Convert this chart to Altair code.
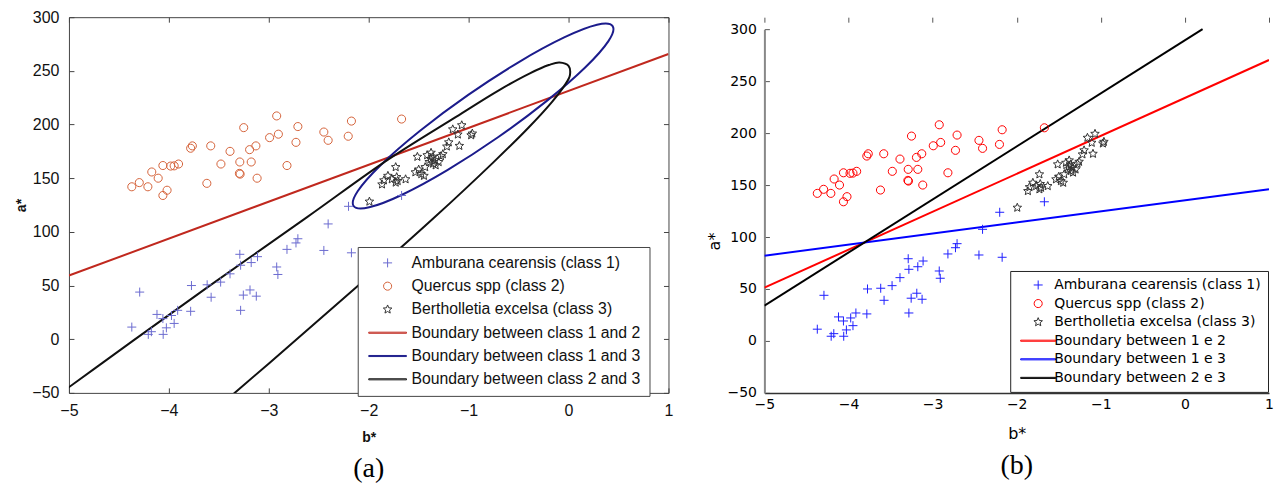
import altair as alt
import pandas as pd

# ---------------- data ----------------
x_ticks = [-5, -4, -3, -2, -1, 0, 1]
y_ticks = [-50, 0, 50, 100, 150, 200, 250, 300]

amburana_b = [-4.371, -4.292, -4.206, -4.175, -4.119, -4.060, -4.057, -4.025, -3.974, -3.947,
              -3.912, -3.782, -3.774, -3.617, -3.577, -3.482, -3.388, -3.290, -3.282, -3.282,
              -3.255, -3.188, -3.176, -3.125, -3.113, -2.921, -2.909, -2.818, -2.728, -2.709,
              -2.449, -2.406, -2.202, -2.173, -1.671]
amburana_a = [11.3, 43.9, 4.5, 7.0, 23.1, 19.2, 4.5, 10.6, 22.1, 14.7,
              26.9, 26.0, 50.0, 50.7, 39.1, 53.2, 60.9, 79.1, 68.9, 26.9,
              41.1, 45.9, 71.4, 40.1, 76.9, 67.3, 60.3, 83.7, 89.7, 93.6,
              82.7, 107.4, 123.8, 80.5, 133.9]

quercus_b = [-4.371, -4.296, -4.210, -4.171, -4.107, -4.060, -4.060, -4.018, -3.982, -3.947,
             -3.903, -3.782, -3.765, -3.620, -3.581, -3.479, -3.388, -3.290, -3.294, -3.287,
             -3.251, -3.192, -3.176, -3.129, -3.117, -2.992, -2.921, -2.904, -2.818, -2.728,
             -2.709, -2.449, -2.406, -2.205, -2.173, -1.671]
quercus_a = [142.0, 145.9, 142.0, 155.8, 150.0, 161.8, 133.9, 138.8, 161.3, 161.5,
             163.2, 177.9, 180.1, 145.2, 180.1, 163.2, 175.0, 165.1, 154.5, 153.8,
             197.1, 176.6, 165.1, 180.1, 150.0, 187.8, 208.0, 191.0, 161.8, 183.4,
             198.1, 193.0, 185.3, 189.1, 203.2, 205.1]

bertholletia_b = [-1.993, -1.867, -1.848, -1.808, -1.769, -1.730, -1.730, -1.710, -1.631, -1.533,
                  -1.513, -1.474, -1.447, -1.435, -1.415, -1.395, -1.376, -1.356, -1.336, -1.356,
                  -1.277, -1.258, -1.218, -1.199, -1.093, -1.159, -1.108, -1.069, -0.963, -0.975,
                  -1.330, -1.300, -1.720, -1.500, -1.380]
bertholletia_a = [128.2, 144.2, 148.0, 152.2, 149.0, 160.3, 145.9, 147.4, 149.0, 155.5,
                  169.9, 153.8, 152.2, 160.3, 171.4, 165.1, 173.7, 163.5, 166.7, 169.9,
                  170.5, 172.4, 179.5, 183.4, 180.1, 195.5, 190.7, 199.3, 191.6, 190.0,
                  162.0, 165.0, 151.0, 158.0, 168.0]

# panel (a) boundaries
a_b12_b = [-5.0, 1.0]
a_b12_a = [59.3, 265.7]
# closed ellipse (class 1 vs 3), points read around the curve
a_b13_b = [0.441, 0.399, 0.166, -0.221, -0.706, -1.213, -1.666, -1.995,
           -2.151, -2.109, -1.876, -1.489, -1.004, -0.497, -0.044, 0.285]
a_b13_a = [291.7, 277.7, 253.1, 221.8, 188.1, 157.5, 134.6, 122.9,
           124.1, 138.1, 162.6, 194.0, 227.6, 258.2, 281.1, 292.9]
# open conic (class 2 vs 3) (runs past the frame)
a_b23_b = [-5.868, -4.737, -3.601, -2.620, -1.796, -1.126, -0.698, -0.387, -0.198, -0.091,
           0.000, 0.013, -0.038, -0.163, -0.402, -0.758, -1.344, -2.090, -2.993, -4.055]
a_b23_a = [-103.5, -26.9, 49.2, 113.5, 168.0, 207.2, 231.9, 247.7, 255.4, 257.8,
           254.6, 245.7, 236.7, 221.4, 197.0, 164.3, 113.3, 51.3, -22.1, -106.9]

# panel (b) boundaries
b_b12_b = [-5.0, 1.0]
b_b12_a = [51.3, 270.3]
b_b13_b = [-5.0, 1.0]
b_b13_a = [82.0, 146.0]
b_b23_b = [-5.0, 0.21]
b_b23_a = [34.0, 300.0]

series_a = ["Amburana cearensis (class 1)", "Quercus spp (class 2)",
            "Bertholletia excelsa (class 3)", "Boundary between class 1 and 2",
            "Boundary between class 1 and 3", "Boundary between class 2 and 3"]
series_b = ["Amburana cearensis (class 1)", "Quercus spp (class 2)",
            "Bertholletia excelsa (class 3)", "Boundary between 1 e 2",
            "Boundary between 1 e 3", "Boundary between 2 e 3"]

colors_a = ["#6b6bd0", "#d4623a", "#333333", "#c0281e", "#1c1c8c", "#111111"]
colors_b = ["#1f1fff", "#ff0000", "#333333", "#ff0000", "#0000ff", "#000000"]

# marker shapes (unit paths)
PLUS = "M-1,0H1M0,-1V1"
CIRC = "M-0.9,0A0.9,0.9 0 1,0 0.9,0A0.9,0.9 0 1,0 -0.9,0Z"
STAR = ("M0,-1L0.265,-0.364L0.951,-0.309L0.428,0.139L0.588,0.809L0,0.45L-0.588,0.809"
        "L-0.428,0.139L-0.951,-0.309L-0.265,-0.364Z")
LINE_A = "M-4.2,-0.12H4.2V0.12H-4.2Z"
LINE_B = "M-3.9,-0.12H3.9V0.12H-3.9Z"
shapes_a = [PLUS, CIRC, STAR, LINE_A, LINE_A, LINE_A]
shapes_b = [PLUS, CIRC, STAR, LINE_B, LINE_B, LINE_B]


def points_df(series):
    return pd.concat([
        pd.DataFrame({"b": amburana_b, "a": amburana_a, "series": series[0]}),
        pd.DataFrame({"b": quercus_b, "a": quercus_a, "series": series[1]}),
        pd.DataFrame({"b": bertholletia_b, "a": bertholletia_a, "series": series[2]}),
    ], ignore_index=True)


def line_df(bs, as_, name):
    return pd.DataFrame({"b": bs, "a": as_, "series": name, "idx": list(range(len(bs)))})


def encodings(series, colors, shapes, legend, xaxis, yaxis, yscale):
    x = alt.X("b:Q", scale=alt.Scale(domain=[-5, 1], nice=False, zero=False), axis=xaxis)
    y = alt.Y("a:Q", scale=yscale, axis=yaxis)
    color = alt.Color("series:N", scale=alt.Scale(domain=series, range=colors), legend=legend)
    shape = alt.Shape("series:N", scale=alt.Scale(domain=series, range=shapes), legend=legend)
    return x, y, color, shape


H = 376

# ---------------- panel (a) ----------------
legend_a = alt.Legend(title=None, orient="none", legendX=289, legendY=230, padding=8,
                      strokeColor="#444", fillColor="white", labelFont="Liberation Sans",
                      labelFontSize=15.8, labelColor="#111", symbolSize=81, symbolOffset=14,
                      labelOffset=16, rowPadding=6.3, labelLimit=500,
                      symbolStrokeWidth=1, symbolFillColor="transparent")
xaxis_a = alt.Axis(values=x_ticks, format="d", title="b*", grid=True, gridColor="#444",
                   gridOpacity=1, gridDash=[5, H - 10, 5, 1000], ticks=False, domain=False,
                   labelFont="Liberation Sans", labelFontSize=16, labelColor="#111",
                   labelPadding=10, labelFlush=False, titleFont="Liberation Sans",
                   titleFontSize=14, titleFontWeight="bold", titleColor="#111",
                   titlePadding=12)
yaxis_a = alt.Axis(values=y_ticks, format="d", title="a*", grid=True, gridColor="#444",
                   gridOpacity=1, gridDash=[5, 590, 5, 1000], ticks=False, domain=False,
                   labelFont="Liberation Sans", labelFontSize=16, labelColor="#111",
                   labelPadding=10, labelFlush=False, titleFont="Liberation Sans",
                   titleFontSize=14, titleFontWeight="bold", titleColor="#111",
                   titlePadding=3)
xa, ya, ca, sa = encodings(series_a, colors_a, shapes_a, legend_a, xaxis_a, yaxis_a,
                           alt.Scale(domain=[-50, 300], nice=False, zero=False))

pts_a = alt.Chart(points_df(series_a)).mark_point(
    filled=False, size=81, opacity=1, strokeWidth=1).encode(x=xa, y=ya, color=ca, shape=sa)
red_a = alt.Chart(line_df(a_b12_b, a_b12_a, series_a[3])).mark_line(
    strokeWidth=2, clip=True).encode(x=xa, y=ya, color=ca, order="idx:Q")
blue_a = alt.Chart(line_df(a_b13_b, a_b13_a, series_a[4])).mark_line(
    strokeWidth=2, interpolate="cardinal-closed", clip=True).encode(
    x=xa, y=ya, color=ca, order="idx:Q")
black_a = alt.Chart(line_df(a_b23_b, a_b23_a, series_a[5])).mark_line(
    strokeWidth=2, interpolate="catmull-rom", clip=True).encode(
    x=xa, y=ya, color=ca, order="idx:Q")

panel_a = alt.layer(red_a, blue_a, black_a, pts_a).properties(
    width=600, height=H,
    view=alt.ViewBackground(stroke="#444", strokeWidth=1),
    title=alt.TitleParams(text="(a)", orient="bottom", anchor="middle",
                          font="Liberation Serif", fontSize=28, fontWeight="normal",
                          color="black", offset=10))

# ---------------- panel (b) ----------------
legend_b = alt.Legend(title=None, orient="none", legendX=246, legendY=254, padding=7,
                      strokeColor="#222", fillColor="white", labelFont="DejaVu Sans",
                      labelFontSize=14, labelColor="black", symbolSize=81, symbolOffset=14,
                      labelOffset=9, rowPadding=4.6, labelLimit=500,
                      symbolStrokeWidth=1, symbolFillColor="transparent")
xaxis_b = alt.Axis(values=x_ticks, format="d", title="b*", grid=True, gridColor="#555",
                   gridOpacity=1, gridDash=[5, 2000], ticks=False, domain=True,
                   domainColor="#333", domainWidth=1.5, labelFont="DejaVu Sans",
                   labelFontSize=14, labelColor="black", labelPadding=5, labelFlush=False,
                   titleFont="DejaVu Sans", titleFontSize=16, titleFontWeight="normal",
                   titleColor="black", titlePadding=14)
yaxis_b = alt.Axis(values=y_ticks, format="d", title="a*", grid=True, gridColor="#555",
                   gridOpacity=1, gridDash=[5, 2000], ticks=False, domain=True,
                   domainColor="#888", domainWidth=2, labelFont="DejaVu Sans",
                   labelFontSize=14, labelColor="black", labelPadding=8, labelFlush=False,
                   titleFont="DejaVu Sans", titleFontSize=16, titleFontWeight="normal",
                   titleColor="black", titlePadding=4, titleY=224)
xb, yb, cb, sb = encodings(series_b, colors_b, shapes_b, legend_b, xaxis_b, yaxis_b,
                           alt.Scale(domain=[-50, 300], range=[H, 12], nice=False,
                                     zero=False))

pts_b = alt.Chart(points_df(series_b)).mark_point(
    filled=False, size=81, opacity=1, strokeWidth=1).encode(x=xb, y=yb, color=cb, shape=sb)
lines_b_df = pd.concat([line_df(b_b12_b, b_b12_a, series_b[3]),
                        line_df(b_b13_b, b_b13_a, series_b[4]),
                        line_df(b_b23_b, b_b23_a, series_b[5])], ignore_index=True)
lines_b = alt.Chart(lines_b_df).mark_line(strokeWidth=2, clip=True).encode(
    x=xb, y=yb, color=cb, detail="series:N", order="idx:Q")

panel_b = alt.layer(lines_b, pts_b).properties(
    width=505, height=H,
    title=alt.TitleParams(text="(b)", orient="bottom", anchor="middle",
                          font="Liberation Serif", fontSize=28, fontWeight="normal",
                          color="black", offset=10))

chart = alt.hconcat(panel_a, panel_b, spacing=96, bounds="flush").resolve_scale(
    color="independent", shape="independent"
).resolve_legend(
    color="independent", shape="independent"
).properties(
    padding={"left": 6, "top": 0, "right": 0, "bottom": 0}
).configure_view(stroke="transparent")

chart.save("out.html", embed_options={"renderer": "svg", "actions": False})
